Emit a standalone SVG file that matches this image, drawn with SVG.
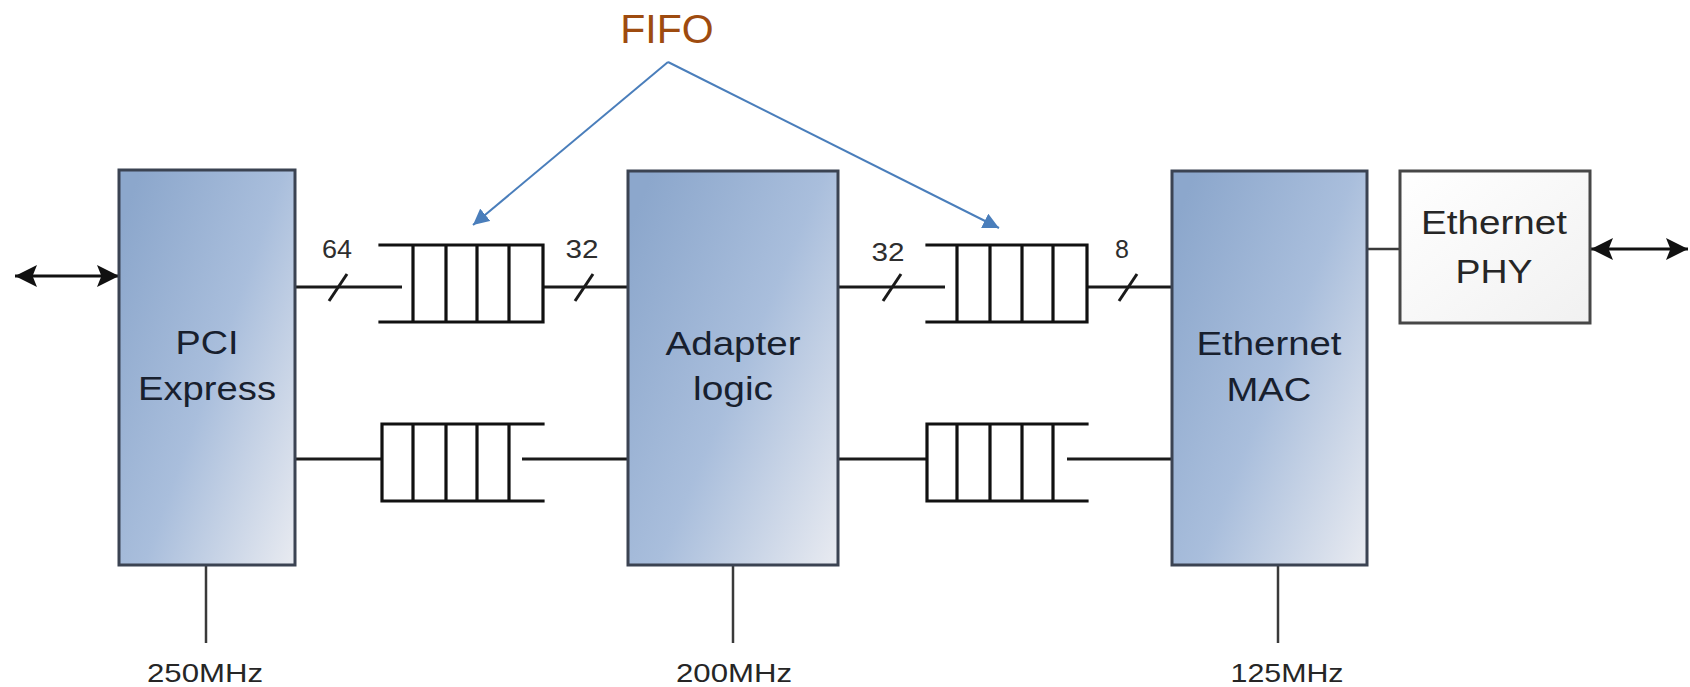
<svg xmlns="http://www.w3.org/2000/svg" width="1690" height="687" viewBox="0 0 1690 687">
  <defs>
    <linearGradient id="blk" x1="0" y1="0.15" x2="1" y2="0.95">
      <stop offset="0" stop-color="#8ca7cc"/>
      <stop offset="0.5" stop-color="#a9bedc"/>
      <stop offset="1" stop-color="#e6e9f0"/>
    </linearGradient>
    <linearGradient id="phy" x1="0" y1="0" x2="1" y2="1">
      <stop offset="0" stop-color="#ffffff"/>
      <stop offset="1" stop-color="#f1f1f1"/>
    </linearGradient>
    <marker id="bk" viewBox="0 0 10 10" refX="10" refY="5" markerWidth="22" markerHeight="22" markerUnits="userSpaceOnUse" orient="auto-start-reverse">
      <path d="M0,0 L10,5 L0,10 L2,5 z" fill="#111"/>
    </marker>
    <marker id="bl" viewBox="0 0 10 10" refX="10" refY="5" markerWidth="8" markerHeight="8" orient="auto">
      <path d="M0,0 L10,5 L0,10 z" fill="#4a7ebb"/>
    </marker>
  </defs>
  <style>
    .box { fill: url(#blk); stroke: #3b4352; stroke-width: 3; }
    .phy { fill: url(#phy); stroke: #474747; stroke-width: 3; }
    .lbl { font-family: "Liberation Sans", Arial, sans-serif; font-size: 33px; fill: #18202e; text-anchor: middle; }
    .num { font-family: "Liberation Sans", Arial, sans-serif; font-size: 25px; fill: #2e2e2e; text-anchor: middle; }
    .clk { font-family: "Liberation Sans", Arial, sans-serif; font-size: 25px; fill: #262626; text-anchor: middle; }
    .w { stroke: #1a1a1a; stroke-width: 3; fill: none; }
    .wg { stroke: #3a3a3a; stroke-width: 2.5; fill: none; }
    .fifo { stroke: #111; stroke-width: 3.2; fill: none; stroke-linecap: square; }
    .arr { stroke: #111; stroke-width: 3; fill: none; }
    .ann { stroke: #4a7ebb; stroke-width: 2; fill: none; }
  </style>

  <g id="connectors">
    <!-- external ports -->
    <line class="arr" x1="15" y1="276" x2="119" y2="276" marker-start="url(#bk)" marker-end="url(#bk)"/>
    <line class="arr" x1="1591" y1="249" x2="1688" y2="249" marker-start="url(#bk)" marker-end="url(#bk)"/>
    <line class="wg" x1="1367" y1="249" x2="1400" y2="249"/>
    <!-- upper datapath -->
    <line class="w" x1="295" y1="287" x2="402" y2="287"/>
    <line class="w" x1="543" y1="287" x2="628" y2="287"/>
    <line class="w" x1="838" y1="287" x2="945" y2="287"/>
    <line class="w" x1="1087" y1="287" x2="1172" y2="287"/>
    <!-- bus width slashes -->
    <line class="w" x1="329" y1="301" x2="347" y2="274" stroke-width="2.5"/>
    <line class="w" x1="575" y1="301" x2="593" y2="274" stroke-width="2.5"/>
    <line class="w" x1="883" y1="301" x2="901" y2="274" stroke-width="2.5"/>
    <line class="w" x1="1119" y1="301" x2="1137" y2="274" stroke-width="2.5"/>
    <!-- lower datapath -->
    <line class="w" x1="295" y1="459" x2="382" y2="459"/>
    <line class="w" x1="522" y1="459" x2="628" y2="459"/>
    <line class="w" x1="838" y1="459" x2="927" y2="459"/>
    <line class="w" x1="1067" y1="459" x2="1172" y2="459"/>
    <!-- clock lines -->
    <line class="wg" x1="206" y1="565" x2="206" y2="643"/>
    <line class="wg" x1="733" y1="565" x2="733" y2="643"/>
    <line class="wg" x1="1278" y1="565" x2="1278" y2="643"/>
    <!-- FIFO annotation arrows -->
    <line class="ann" x1="668" y1="62" x2="473" y2="225" marker-end="url(#bl)"/>
    <line class="ann" x1="668" y1="62" x2="999" y2="228" marker-end="url(#bl)"/>
  </g>

  <g id="fifo-label">
    <text x="667" y="43" font-family="'Liberation Sans', Arial, sans-serif" font-size="41" fill="#9e4b0f" text-anchor="middle">FIFO</text>
  </g>

  <g id="pci-express">
    <rect class="box" x="119" y="170" width="176" height="395"/>
    <text class="lbl" x="207" y="354" textLength="63" lengthAdjust="spacingAndGlyphs">PCI</text>
    <text class="lbl" x="207" y="400" textLength="138" lengthAdjust="spacingAndGlyphs">Express</text>
  </g>

  <g id="adapter-logic">
    <rect class="box" x="628" y="171" width="210" height="394"/>
    <text class="lbl" x="733" y="355" textLength="135" lengthAdjust="spacingAndGlyphs">Adapter</text>
    <text class="lbl" x="733" y="400" textLength="80" lengthAdjust="spacingAndGlyphs">logic</text>
  </g>

  <g id="ethernet-mac">
    <rect class="box" x="1172" y="171" width="195" height="394"/>
    <text class="lbl" x="1269" y="355" textLength="145" lengthAdjust="spacingAndGlyphs">Ethernet</text>
    <text class="lbl" x="1269" y="401" textLength="85" lengthAdjust="spacingAndGlyphs">MAC</text>
  </g>

  <g id="ethernet-phy">
    <rect class="phy" x="1400" y="171" width="190" height="152"/>
    <text class="lbl" x="1494" y="234" textLength="146" lengthAdjust="spacingAndGlyphs" style="fill:#262626">Ethernet</text>
    <text class="lbl" x="1494" y="283" textLength="77" lengthAdjust="spacingAndGlyphs" style="fill:#262626">PHY</text>
  </g>

  <g id="fifo-tx-1">
    <path class="fifo" d="M380,245 H543 V322 H380 M413,245 V322 M446,245 V322 M477,245 V322 M509,245 V322"/>
  </g>
  <g id="fifo-rx-1">
    <path class="fifo" d="M543,424 H382 V501 H543 M413,424 V501 M446,424 V501 M477,424 V501 M509,424 V501"/>
  </g>
  <g id="fifo-tx-2">
    <path class="fifo" d="M927,245 H1087 V322 H927 M957,245 V322 M990,245 V322 M1022,245 V322 M1053,245 V322"/>
  </g>
  <g id="fifo-rx-2">
    <path class="fifo" d="M1087,424 H927 V501 H1087 M957,424 V501 M990,424 V501 M1022,424 V501 M1053,424 V501"/>
  </g>

  <g id="bus-widths">
    <text class="num" x="337" y="258" textLength="30" lengthAdjust="spacingAndGlyphs">64</text>
    <text class="num" x="582" y="258" textLength="33" lengthAdjust="spacingAndGlyphs">32</text>
    <text class="num" x="888" y="261" textLength="33" lengthAdjust="spacingAndGlyphs">32</text>
    <text class="num" x="1122" y="258">8</text>
  </g>

  <g id="clocks">
    <text class="clk" x="205" y="682" textLength="116" lengthAdjust="spacingAndGlyphs">250MHz</text>
    <text class="clk" x="734" y="682" textLength="116" lengthAdjust="spacingAndGlyphs">200MHz</text>
    <text class="clk" x="1287" y="682" textLength="113" lengthAdjust="spacingAndGlyphs">125MHz</text>
  </g>
</svg>
